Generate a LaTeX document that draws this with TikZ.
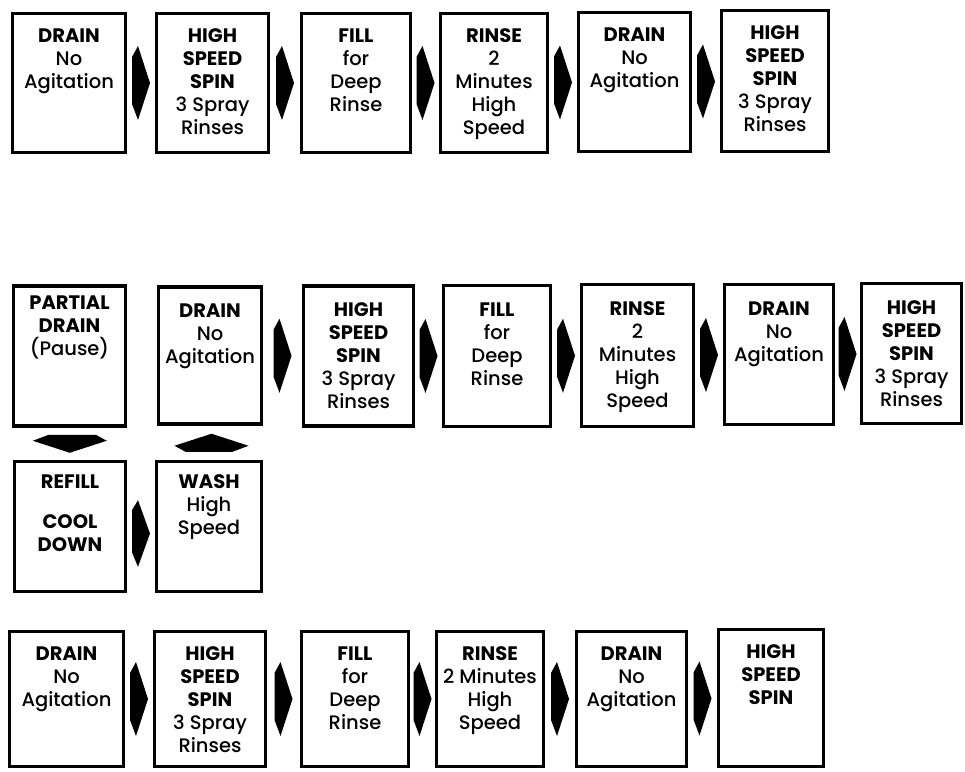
\documentclass[tikz,border=0pt]{standalone}
\usepackage{fontspec}
\setmainfont{Poppins Medium}[BoldFont={Poppins Bold}]
\usetikzlibrary{calc}

\tikzset{
	stage/.style={draw,line width=3.2pt,inner sep=0pt,font=\fontsize{19.5}{23}\selectfont},
	fwd/.pic={\fill (-3,-37) -- (9,0) -- (-3,37) -- (-9,21) -- (-9,-26) -- cycle;}
}
% box text: [top gap] width, height, lines
\newcommand{\stagetext}[4][15pt]{\parbox[c][#3][t]{#2}{\centering\vspace*{#1}#4\par}}

\begin{document}
\begin{tikzpicture}[x=1pt,y=-1pt]
	\useasboundingbox (0,0) rectangle (965,771);
	
	% first row
	\node[stage] (t1) at (69,83) {\stagetext{113pt}{139pt}{\textbf{DRAIN}\\No\\Agitation}};
	\node[stage] (t2) at (212.5,83) {\stagetext{112pt}{139pt}{\textbf{HIGH\\SPEED\\SPIN}\\3 Spray\\Rinses}};
	\node[stage] (t3) at (356,83) {\stagetext{109pt}{139pt}{\textbf{FILL}\\for\\Deep\\Rinse}};
	\node[stage] (t4) at (494,83) {\stagetext{107pt}{139pt}{\textbf{RINSE}\\2\\Minutes\\High\\Speed}};
	\node[stage] (t5) at (634.5,82) {\stagetext{112pt}{139pt}{\textbf{DRAIN}\\No\\Agitation}};
	\node[stage] (t6) at (775,81) {\stagetext{107pt}{141pt}{\textbf{HIGH\\SPEED\\SPIN}\\3 Spray\\Rinses}};
	
	\foreach \a/\b in {t1/t2,t2/t3,t3/t4,t4/t5,t5/t6}
		\pic at ($(\a.east)!0.5!(\b.west)$) {fwd};
	
	% second row
	\node[stage] (m1) at (69.5,356) {\stagetext[10pt]{112pt}{140pt}{\textbf{PARTIAL\\DRAIN}\\(Pause)}};
	\node[stage] (m2) at (210,355.5) {\stagetext[17pt]{103pt}{137pt}{\textbf{DRAIN}\\No\\Agitation}};
	\node[stage] (m3) at (358.5,356) {\stagetext[17pt]{110pt}{140pt}{\textbf{HIGH\\SPEED\\SPIN}\\3 Spray\\Rinses}};
	\node[stage] (m4) at (497,356) {\stagetext[17pt]{107pt}{141pt}{\textbf{FILL}\\for\\Deep\\Rinse}};
	\node[stage] (m5) at (637.5,355.5) {\stagetext[17pt]{112pt}{142pt}{\textbf{RINSE}\\2\\Minutes\\High\\Speed}};
	\node[stage] (m6) at (779,354.5) {\stagetext[17pt]{109pt}{140pt}{\textbf{DRAIN}\\No\\Agitation}};
	\node[stage] (m7) at (911.5,353.5) {\stagetext[17pt]{100pt}{140pt}{\textbf{HIGH\\SPEED\\SPIN}\\3 Spray\\Rinses}};
	
	\foreach \a/\b in {m2/m3,m3/m4,m4/m5,m5/m6,m6/m7}
		\pic at ($(\a.east)!0.5!(\b.west)$) {fwd};
	
	% refill loop
	\node[stage] (r1) at (70,526.5) {\stagetext[13pt]{111pt}{130pt}{\textbf{REFILL}\\[17pt]\textbf{COOL\\DOWN}}};
	\node[stage] (r2) at (209,526.5) {\stagetext[13pt]{105pt}{130pt}{\textbf{WASH}\\High\\Speed}};
	
	\pic[rotate=-90] at ($(m1.south)!0.5!(r1.north)$) {fwd};
	\pic[yshift=-7pt,yscale=0.9] at ($(r1.east)!0.5!(r2.west)$) {fwd};
	\pic[rotate=90] at ($(r2.north)!0.5!(m2.south)+(2,0)$) {fwd};
	
	% last row
	\node[stage] (u1) at (66.5,699) {\stagetext{114pt}{135pt}{\textbf{DRAIN}\\No\\Agitation}};
	\node[stage] (u2) at (210,699) {\stagetext{111pt}{135pt}{\textbf{HIGH\\SPEED\\SPIN}\\3 Spray\\Rinses}};
	\node[stage] (u3) at (355,699) {\stagetext{107pt}{135pt}{\textbf{FILL}\\for\\Deep\\Rinse}};
	\node[stage] (u4) at (490,699) {\stagetext{107pt}{135pt}{\textbf{RINSE}\\2 Minutes\\High\\Speed}};
	\node[stage] (u5) at (631.5,699) {\stagetext{110pt}{135pt}{\textbf{DRAIN}\\No\\Agitation}};
	\node[stage] (u6) at (771,698) {\stagetext{105pt}{137pt}{\textbf{HIGH\\SPEED\\SPIN}}};
	
	\foreach \a/\b in {u1/u2,u2/u3,u3/u4,u4/u5,u5/u6}
		\pic at ($(\a.east)!0.5!(\b.west)$) {fwd};
\end{tikzpicture}
\end{document}
